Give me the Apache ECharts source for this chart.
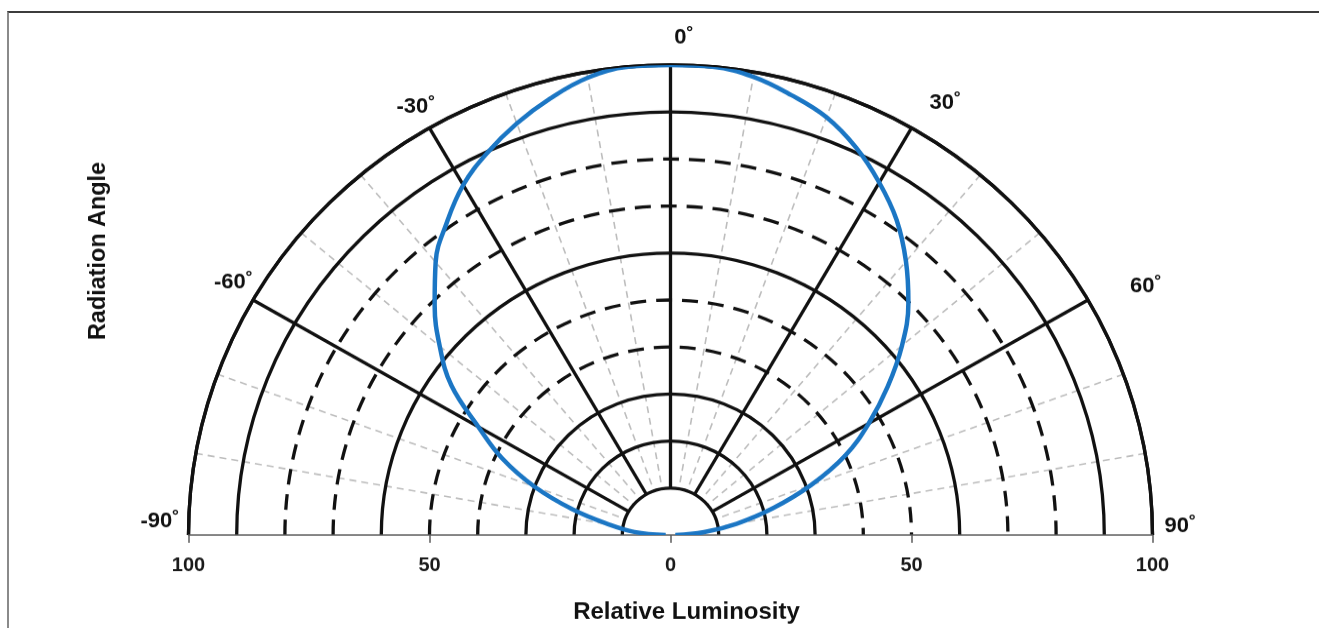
<!DOCTYPE html>
<html><head><meta charset="utf-8">
<script src="https://cdn.jsdelivr.net/npm/echarts@6/dist/echarts.min.js"></script>
<style>
html,body{margin:0;padding:0;background:#fff;overflow:hidden;width:1319px;height:628px;}
#frame{position:absolute;left:7px;top:11px;width:1400px;height:700px;border-top:2px solid #3c3c3c;border-left:2px solid #8a8a8a;box-sizing:border-box;}
#chart{position:absolute;left:0;top:0;width:1319px;height:628px;transform:scaleY(0.9751);transform-origin:0 535px;}
</style></head><body>
<div id="frame"></div>
<div id="chart"></div>
<script>
// ---- data ----
const angles = [-90,-85,-80,-75,-70,-65,-60,-55,-50,-45,-40,-35,-30,-25,-20,-15,-10,-5,0,5,10,15,20,25,30,35,40,45,50,55,60,65,70,75,80,85,90];
const luminosity = [1,7.5,13,21,30,38.5,46,55.5,62.5,69.2,75.8,81,86,89.8,93.2,96.2,98.8,100,100,100,99.0,96.9,94.6,91.0,86.6,81.8,76,69.8,62.7,55,47.5,40,31,22,14,7,1];
const angleTickLabels = [-90,-60,-30,0,30,60,90];
const radiusTicks = [0,10,20,30,40,50,60,70,80,90,100];
const solidRings = [10,20,30,60,90,100];
const dashedRings = [40,50,70,80];
const fineAngles = [-90,-80,-70,-60,-50,-40,-30,-20,-10,0,10,20,30,40,50,60,70,80,90];
const xTicks = [-100,-50,0,50,100];

// ---- style ----
const BLACK = '#111';
const NONE = 'rgba(0,0,0,0)';
const GRAY = '#bdbdbd';
const BLUE = '#1b76c4';
const FONT = '"Liberation Sans", Arial, sans-serif';
const CX = 670.5, CY = 535, R = 482;
const LW = 3.3;

const chart = echarts.init(document.getElementById('chart'), null, {renderer:'canvas'});

function rk(v){ return v < 0 ? 'm' + (-v) : 'p' + v; }
const labelPad = {m90:[0,39,29,0], m60:[0,26,22,0], m30:[0,9,37,0], p0:[0,0,47,27], p30:[0,0,41,33], p60:[0,0,18,68], p90:[0,0,18,42]};
const rich = {};
angleTickLabels.forEach(v => {
  rich[rk(v)] = {fontSize:22, fontWeight:'bold', fontFamily:FONT, color:'#111', padding:labelPad[rk(v)]};
});

const hiddenAngle = (pi, z) => ({
  polarIndex: pi, type:'value', min:-90, max:90, startAngle:180, endAngle:0, clockwise:true,
  axisLine:{show:false}, axisTick:{show:false}, axisLabel:{show:false}, splitLine:{show:false}, z:z
});
const hiddenRadius = (pi, z) => ({
  polarIndex: pi, type:'value', min:0, max:100,
  axisLine:{show:false}, axisTick:{show:false}, axisLabel:{show:false}, splitLine:{show:false}, z:z
});

const option = {
  backgroundColor: 'transparent',
  animation: false,
  polar: [
    {center:[CX, CY], radius:[0, R]},          // 0 data + dashed rings
    {center:[CX, CY], radius:[0, R]},          // 1 solid rings + outer arc + angle labels
    {center:[CX, CY], radius:[R/10, R]},       // 2 gray dashed spokes
    {center:[CX, CY], radius:[R/10, R]}        // 3 black spokes
  ],
  angleAxis: [
    hiddenAngle(0, 1),
    Object.assign(hiddenAngle(1, 4), {
      interval:30,
      axisLine:{show:true, lineStyle:{color:BLACK, width:LW}},
      axisLabel:{show:true, margin:-30, formatter: v => '{' + rk(v) + '|' + v + '˚}', rich: rich}
    }),
    Object.assign(hiddenAngle(2, 1), {
      interval:10,
      splitLine:{show:true, lineStyle:{color: fineAngles.map(v => (v % 30 === 0) ? NONE : GRAY), width:1.6, type:[7,5]}}
    }),
    Object.assign(hiddenAngle(3, 4), {
      interval:30,
      splitLine:{show:true, lineStyle:{color: angleTickLabels.map(v => Math.abs(v) === 90 ? NONE : BLACK), width:LW}}
    })
  ],
  radiusAxis: [
    Object.assign(hiddenRadius(0, 2), {
      interval:10,
      splitLine:{show:true, lineStyle:{color: radiusTicks.map(v => dashedRings.includes(v) ? BLACK : NONE), width:LW, type:[16,10]}}
    }),
    Object.assign(hiddenRadius(1, 3), {
      interval:10,
      splitLine:{show:true, lineStyle:{color: radiusTicks.map(v => solidRings.includes(v) ? BLACK : NONE), width:LW}}
    }),
    hiddenRadius(2, 1),
    hiddenRadius(3, 4)
  ],
  grid: {left: CX - R, right: 1319 - (CX + R), top: 300, bottom: 628 - CY},
  xAxis: {
    type:'value', min:-100, max:100, interval:50,
    axisLine:{show:true, lineStyle:{color:'#5c5c5c', width:1.5}},
    axisTick:{show:true, length:8, lineStyle:{color:'#5c5c5c', width:1.5}},
    axisLabel:{margin:21, fontSize:20, fontWeight:'bold', fontFamily:FONT, color:'#1a1a1a', formatter: v => String(Math.abs(v))},
    splitLine:{show:false},
    name:'Relative Luminosity', nameLocation:'middle', nameGap:67,
    nameTextStyle:{fontSize:24, fontWeight:'bold', fontFamily:FONT, color:'#111', padding:[0,0,0,32]},
    z:5
  },
  yAxis: {type:'value', show:false},
  graphic: [{
    type:'text', x:98, y:243.7, rotation: Math.PI/2,
    style:{text:'Radiation Angle', font:'bold 24px ' + FONT, fill:'#111', align:'center', verticalAlign:'middle', textAlign:'center', textVerticalAlign:'middle'}
  }],
  series: [{
    type:'line', coordinateSystem:'polar', polarIndex:0,
    data: angles.map((a, i) => [luminosity[i], a]),
    smooth:0.4, showSymbol:false, clip:false,
    lineStyle:{color:BLUE, width:4.5},
    z:10
  }]
};
chart.setOption(option);
</script>
</body></html>
